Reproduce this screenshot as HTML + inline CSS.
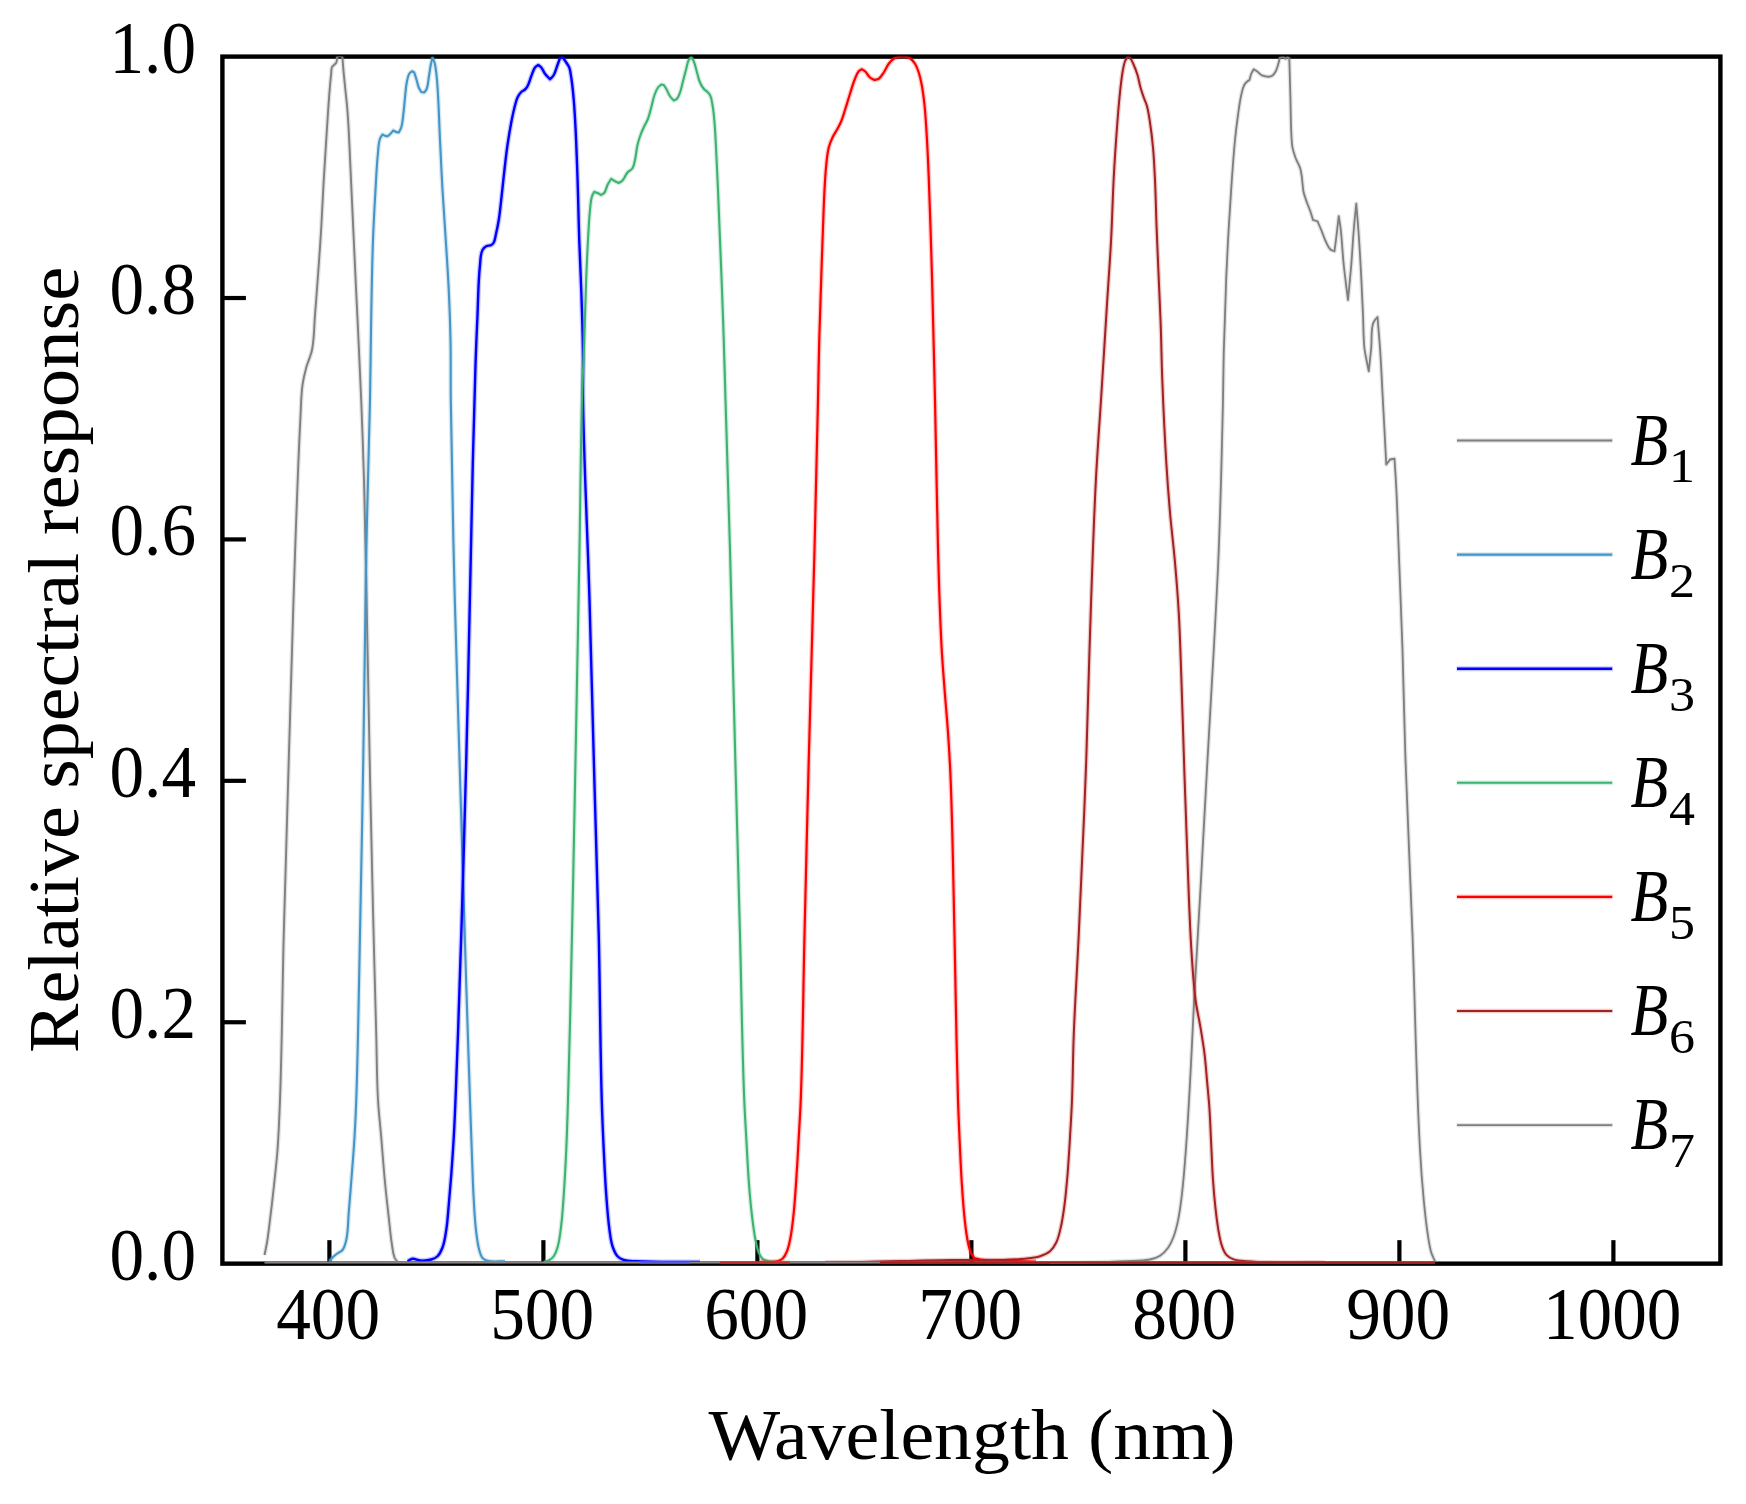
<!DOCTYPE html>
<html lang="en"><head><meta charset="utf-8"><title>Relative spectral response</title>
<style>html,body{margin:0;padding:0;background:#fff;}body{width:1746px;height:1504px;overflow:hidden;}svg{display:block;}text{font-family:"Liberation Serif","DejaVu Serif",serif;fill:#000;}</style></head><body>
<svg width="1746" height="1504" viewBox="0 0 1746 1504">
<rect width="1746" height="1504" fill="#fff"/>
<g>
<defs><clipPath id="ax"><rect x="222.40" y="56.60" width="1498.00" height="1207.05"/></clipPath></defs>
<g stroke="#000" stroke-width="4.20" stroke-linecap="butt">
<line x1="329.40" y1="1263.65" x2="329.40" y2="1240.15"/>
<line x1="543.40" y1="1263.65" x2="543.40" y2="1240.15"/>
<line x1="757.40" y1="1263.65" x2="757.40" y2="1240.15"/>
<line x1="971.40" y1="1263.65" x2="971.40" y2="1240.15"/>
<line x1="1185.40" y1="1263.65" x2="1185.40" y2="1240.15"/>
<line x1="1399.40" y1="1263.65" x2="1399.40" y2="1240.15"/>
<line x1="1613.40" y1="1263.65" x2="1613.40" y2="1240.15"/>
<line x1="222.40" y1="1022.24" x2="245.90" y2="1022.24"/>
<line x1="222.40" y1="780.83" x2="245.90" y2="780.83"/>
<line x1="222.40" y1="539.42" x2="245.90" y2="539.42"/>
<line x1="222.40" y1="298.01" x2="245.90" y2="298.01"/>
</g>
<rect x="222.40" y="56.60" width="1498.00" height="1207.05" fill="none" stroke="#000" stroke-width="4.40" stroke-linejoin="miter"/>
<g clip-path="url(#ax)" fill="none" stroke-linejoin="round" stroke-linecap="butt">
<path d="M264.50 1255.00C265.33 1250.83 266.30 1246.69 267.00 1242.50C268.24 1235.04 269.07 1227.51 270.00 1220.00C271.35 1209.18 272.58 1198.34 273.75 1187.50C275.10 1175.01 276.56 1162.53 277.50 1150.00C278.75 1133.36 279.39 1116.68 280.00 1100.00C282.00 1045.02 282.34 990.00 283.75 935.00C285.25 876.66 287.05 818.33 288.75 760.00C290.30 706.67 291.69 653.33 293.50 600.00C295.58 538.66 297.36 477.30 300.50 416.00C301.03 405.66 301.08 395.26 302.50 385.00C303.32 379.09 304.69 373.26 306.25 367.50C307.85 361.57 310.77 356.02 312.00 350.00C314.34 338.53 314.06 326.67 315.00 315.00C316.34 298.34 317.57 281.67 318.75 265.00C319.64 252.50 320.50 240.01 321.25 227.50C322.19 211.67 322.84 195.83 323.75 180.00C324.52 166.66 325.41 153.33 326.25 140.00C326.86 130.33 327.43 120.66 328.10 111.00C328.63 103.36 329.14 95.73 329.80 88.10C330.21 83.33 330.66 78.56 331.20 73.80C331.46 71.50 331.08 68.98 332.10 66.90C332.58 65.93 333.66 65.39 334.40 64.60C335.09 63.86 335.98 63.23 336.40 62.30C337.13 60.68 336.87 58.77 337.10 57.00C337.97 56.53 338.83 56.07 339.70 55.60C340.60 56.07 341.50 56.53 342.40 57.00C342.77 61.63 343.09 66.27 343.50 70.90C344.01 76.64 344.62 82.37 345.20 88.10C345.78 93.84 346.50 99.56 347.00 105.30C347.58 111.86 348.01 118.43 348.40 125.00C349.10 136.66 349.55 148.33 350.10 160.00C350.77 174.17 351.40 188.33 352.05 202.50C352.93 221.67 353.81 240.83 354.70 260.00C355.36 274.17 356.03 288.33 356.70 302.50C357.29 315.00 357.92 327.50 358.50 340.00C359.43 360.00 360.40 380.00 361.20 400.00C362.27 426.66 363.24 453.33 364.00 480.00C365.13 519.99 365.78 560.00 366.60 600.00C367.80 658.67 368.78 717.34 370.00 776.00C370.93 820.67 371.92 865.34 373.00 910.00C374.01 951.67 375.15 993.33 376.25 1035.00C376.82 1056.67 376.77 1078.36 378.00 1100.00C378.71 1112.53 380.19 1125.00 381.25 1137.50C382.52 1152.50 383.57 1167.52 385.00 1182.50C386.11 1194.18 387.44 1205.84 388.75 1217.50C389.78 1226.67 390.55 1235.88 392.00 1245.00C392.67 1249.20 392.87 1253.57 394.50 1257.50C395.19 1259.17 396.50 1260.50 397.50 1262.00" stroke="#808080" stroke-width="4.50" stroke-opacity="0.22"/>
<path d="M264.50 1255.00C265.33 1250.83 266.30 1246.69 267.00 1242.50C268.24 1235.04 269.07 1227.51 270.00 1220.00C271.35 1209.18 272.58 1198.34 273.75 1187.50C275.10 1175.01 276.56 1162.53 277.50 1150.00C278.75 1133.36 279.39 1116.68 280.00 1100.00C282.00 1045.02 282.34 990.00 283.75 935.00C285.25 876.66 287.05 818.33 288.75 760.00C290.30 706.67 291.69 653.33 293.50 600.00C295.58 538.66 297.36 477.30 300.50 416.00C301.03 405.66 301.08 395.26 302.50 385.00C303.32 379.09 304.69 373.26 306.25 367.50C307.85 361.57 310.77 356.02 312.00 350.00C314.34 338.53 314.06 326.67 315.00 315.00C316.34 298.34 317.57 281.67 318.75 265.00C319.64 252.50 320.50 240.01 321.25 227.50C322.19 211.67 322.84 195.83 323.75 180.00C324.52 166.66 325.41 153.33 326.25 140.00C326.86 130.33 327.43 120.66 328.10 111.00C328.63 103.36 329.14 95.73 329.80 88.10C330.21 83.33 330.66 78.56 331.20 73.80C331.46 71.50 331.08 68.98 332.10 66.90C332.58 65.93 333.66 65.39 334.40 64.60C335.09 63.86 335.98 63.23 336.40 62.30C337.13 60.68 336.87 58.77 337.10 57.00C337.97 56.53 338.83 56.07 339.70 55.60C340.60 56.07 341.50 56.53 342.40 57.00C342.77 61.63 343.09 66.27 343.50 70.90C344.01 76.64 344.62 82.37 345.20 88.10C345.78 93.84 346.50 99.56 347.00 105.30C347.58 111.86 348.01 118.43 348.40 125.00C349.10 136.66 349.55 148.33 350.10 160.00C350.77 174.17 351.40 188.33 352.05 202.50C352.93 221.67 353.81 240.83 354.70 260.00C355.36 274.17 356.03 288.33 356.70 302.50C357.29 315.00 357.92 327.50 358.50 340.00C359.43 360.00 360.40 380.00 361.20 400.00C362.27 426.66 363.24 453.33 364.00 480.00C365.13 519.99 365.78 560.00 366.60 600.00C367.80 658.67 368.78 717.34 370.00 776.00C370.93 820.67 371.92 865.34 373.00 910.00C374.01 951.67 375.15 993.33 376.25 1035.00C376.82 1056.67 376.77 1078.36 378.00 1100.00C378.71 1112.53 380.19 1125.00 381.25 1137.50C382.52 1152.50 383.57 1167.52 385.00 1182.50C386.11 1194.18 387.44 1205.84 388.75 1217.50C389.78 1226.67 390.55 1235.88 392.00 1245.00C392.67 1249.20 392.87 1253.57 394.50 1257.50C395.19 1259.17 396.50 1260.50 397.50 1262.00" stroke="#808080" stroke-width="1.90"/>
<path d="M329.25 1261.25C330.33 1260.00 331.32 1258.66 332.50 1257.50C333.89 1256.13 335.44 1254.93 337.00 1253.75C338.77 1252.41 341.13 1251.75 342.50 1250.00C344.70 1247.20 345.46 1243.47 346.25 1240.00C348.30 1231.03 347.97 1221.67 348.75 1212.50C349.82 1200.01 350.79 1187.50 351.75 1175.00C352.71 1162.50 353.75 1150.01 354.50 1137.50C355.25 1125.01 355.81 1112.51 356.25 1100.00C357.88 1053.35 358.52 1006.67 359.50 960.00C360.90 893.34 362.15 826.67 363.25 760.00C364.41 690.00 364.88 619.99 366.25 550.00C367.23 499.99 369.01 450.01 370.00 400.00C370.56 371.67 370.71 343.33 371.25 315.00C371.73 290.00 372.08 264.99 373.00 240.00C373.61 223.32 374.53 206.66 375.50 190.00C376.23 177.49 376.68 164.96 378.00 152.50C378.49 147.89 378.46 143.12 380.00 138.75C380.55 137.20 381.67 135.92 382.50 134.50C383.33 134.92 384.12 135.45 385.00 135.75C385.80 136.03 386.67 136.08 387.50 136.25C388.50 135.42 389.58 134.67 390.50 133.75C391.51 132.75 392.33 131.58 393.25 130.50C394.25 131.00 395.19 131.64 396.25 132.00C397.05 132.28 397.92 132.33 398.75 132.50C399.58 130.83 400.68 129.27 401.25 127.50C402.54 123.48 402.71 119.18 403.25 115.00C404.01 109.19 404.37 103.33 405.00 97.50C405.54 92.50 405.76 87.44 406.75 82.50C407.34 79.53 407.65 76.33 409.25 73.75C409.90 72.70 411.08 72.08 412.00 71.25C412.75 71.67 413.50 72.08 414.25 72.50C414.92 74.58 415.62 76.66 416.25 78.75C417.13 81.65 417.59 84.70 418.75 87.50C419.41 89.09 420.42 90.50 421.25 92.00C422.25 92.17 423.25 92.33 424.25 92.50C425.08 91.25 426.19 90.14 426.75 88.75C428.17 85.22 428.12 81.26 428.75 77.50C429.45 73.34 429.94 69.14 430.75 65.00C431.24 62.48 431.92 60.00 432.50 57.50C433.17 59.17 434.02 60.77 434.50 62.50C435.62 66.57 436.01 70.81 436.50 75.00C437.28 81.64 437.60 88.33 438.00 95.00C438.89 109.99 439.29 125.00 440.00 140.00C440.79 156.67 441.54 173.34 442.50 190.00C443.60 209.18 445.06 228.33 446.25 247.50C447.13 261.66 448.09 275.82 448.75 290.00C449.53 306.66 450.17 323.33 450.50 340.00C450.90 360.00 450.55 380.00 450.80 400.00C451.63 466.67 453.15 533.34 454.80 600.00C456.25 658.67 458.26 717.33 460.00 776.00C462.07 845.67 464.07 915.34 466.25 985.00C467.45 1023.33 468.70 1061.67 470.00 1100.00C470.56 1116.67 471.13 1133.33 471.75 1150.00C472.38 1166.67 472.78 1183.35 473.75 1200.00C474.38 1210.85 474.91 1221.72 476.25 1232.50C476.98 1238.37 477.63 1244.31 479.25 1250.00C480.04 1252.77 480.59 1255.85 482.50 1258.00C483.76 1259.42 485.66 1260.25 487.50 1260.75C493.13 1262.28 499.17 1261.08 505.00 1261.25" stroke="#4595c6" stroke-width="4.70" stroke-opacity="0.22"/>
<path d="M329.25 1261.25C330.33 1260.00 331.32 1258.66 332.50 1257.50C333.89 1256.13 335.44 1254.93 337.00 1253.75C338.77 1252.41 341.13 1251.75 342.50 1250.00C344.70 1247.20 345.46 1243.47 346.25 1240.00C348.30 1231.03 347.97 1221.67 348.75 1212.50C349.82 1200.01 350.79 1187.50 351.75 1175.00C352.71 1162.50 353.75 1150.01 354.50 1137.50C355.25 1125.01 355.81 1112.51 356.25 1100.00C357.88 1053.35 358.52 1006.67 359.50 960.00C360.90 893.34 362.15 826.67 363.25 760.00C364.41 690.00 364.88 619.99 366.25 550.00C367.23 499.99 369.01 450.01 370.00 400.00C370.56 371.67 370.71 343.33 371.25 315.00C371.73 290.00 372.08 264.99 373.00 240.00C373.61 223.32 374.53 206.66 375.50 190.00C376.23 177.49 376.68 164.96 378.00 152.50C378.49 147.89 378.46 143.12 380.00 138.75C380.55 137.20 381.67 135.92 382.50 134.50C383.33 134.92 384.12 135.45 385.00 135.75C385.80 136.03 386.67 136.08 387.50 136.25C388.50 135.42 389.58 134.67 390.50 133.75C391.51 132.75 392.33 131.58 393.25 130.50C394.25 131.00 395.19 131.64 396.25 132.00C397.05 132.28 397.92 132.33 398.75 132.50C399.58 130.83 400.68 129.27 401.25 127.50C402.54 123.48 402.71 119.18 403.25 115.00C404.01 109.19 404.37 103.33 405.00 97.50C405.54 92.50 405.76 87.44 406.75 82.50C407.34 79.53 407.65 76.33 409.25 73.75C409.90 72.70 411.08 72.08 412.00 71.25C412.75 71.67 413.50 72.08 414.25 72.50C414.92 74.58 415.62 76.66 416.25 78.75C417.13 81.65 417.59 84.70 418.75 87.50C419.41 89.09 420.42 90.50 421.25 92.00C422.25 92.17 423.25 92.33 424.25 92.50C425.08 91.25 426.19 90.14 426.75 88.75C428.17 85.22 428.12 81.26 428.75 77.50C429.45 73.34 429.94 69.14 430.75 65.00C431.24 62.48 431.92 60.00 432.50 57.50C433.17 59.17 434.02 60.77 434.50 62.50C435.62 66.57 436.01 70.81 436.50 75.00C437.28 81.64 437.60 88.33 438.00 95.00C438.89 109.99 439.29 125.00 440.00 140.00C440.79 156.67 441.54 173.34 442.50 190.00C443.60 209.18 445.06 228.33 446.25 247.50C447.13 261.66 448.09 275.82 448.75 290.00C449.53 306.66 450.17 323.33 450.50 340.00C450.90 360.00 450.55 380.00 450.80 400.00C451.63 466.67 453.15 533.34 454.80 600.00C456.25 658.67 458.26 717.33 460.00 776.00C462.07 845.67 464.07 915.34 466.25 985.00C467.45 1023.33 468.70 1061.67 470.00 1100.00C470.56 1116.67 471.13 1133.33 471.75 1150.00C472.38 1166.67 472.78 1183.35 473.75 1200.00C474.38 1210.85 474.91 1221.72 476.25 1232.50C476.98 1238.37 477.63 1244.31 479.25 1250.00C480.04 1252.77 480.59 1255.85 482.50 1258.00C483.76 1259.42 485.66 1260.25 487.50 1260.75C493.13 1262.28 499.17 1261.08 505.00 1261.25" stroke="#4595c6" stroke-width="2.10"/>
<path d="M407.50 1261.25C409.17 1260.42 410.65 1258.97 412.50 1258.75C415.05 1258.45 417.44 1260.32 420.00 1260.50C423.76 1260.76 427.64 1260.56 431.25 1259.50C433.50 1258.84 435.81 1257.88 437.50 1256.25C439.92 1253.92 441.30 1250.64 442.50 1247.50C444.63 1241.93 445.33 1235.89 446.25 1230.00C447.55 1221.73 447.99 1213.34 448.75 1205.00C449.67 1195.01 450.50 1185.01 451.25 1175.00C452.19 1162.51 453.04 1150.01 453.75 1137.50C454.46 1125.01 454.99 1112.50 455.50 1100.00C457.74 1045.01 459.51 990.01 461.25 935.00C463.10 876.67 464.73 818.34 466.25 760.00C469.67 628.34 471.33 496.64 475.50 365.00C476.03 348.33 476.75 331.66 477.50 315.00C478.25 298.33 478.21 281.59 480.00 265.00C480.54 259.96 480.18 254.51 482.50 250.00C483.31 248.43 484.71 247.12 486.25 246.25C487.74 245.40 489.76 245.85 491.25 245.00C492.28 244.42 493.16 243.52 493.75 242.50C495.04 240.26 495.16 237.52 495.75 235.00C496.91 230.03 497.95 225.04 498.75 220.00C500.07 211.71 500.80 203.34 501.75 195.00C502.89 185.01 503.83 174.99 505.00 165.00C505.78 158.33 506.53 151.65 507.50 145.00C508.60 137.48 509.82 129.97 511.25 122.50C512.21 117.48 513.22 112.45 514.50 107.50C515.37 104.13 516.00 100.64 517.50 97.50C518.46 95.50 519.67 93.56 521.25 92.00C522.32 90.94 523.90 90.53 525.00 89.50C526.00 88.57 526.84 87.44 527.50 86.25C529.23 83.14 529.92 79.55 531.25 76.25C532.43 73.31 533.05 70.01 535.00 67.50C535.84 66.42 537.17 65.83 538.25 65.00C539.25 65.83 540.40 66.51 541.25 67.50C542.83 69.35 543.55 71.80 545.00 73.75C546.48 75.74 548.33 77.42 550.00 79.25C551.25 77.83 552.78 76.62 553.75 75.00C555.58 71.95 556.28 68.34 557.50 65.00C558.35 62.67 559.17 60.33 560.00 58.00C560.83 57.67 561.67 57.33 562.50 57.00C563.75 58.83 565.05 60.63 566.25 62.50C567.30 64.14 568.55 65.69 569.25 67.50C570.48 70.67 570.73 74.14 571.25 77.50C572.41 84.96 573.09 92.48 573.75 100.00C574.55 109.15 575.02 118.33 575.50 127.50C576.36 144.16 576.93 160.83 577.50 177.50C578.21 198.33 578.54 219.17 579.25 240.00C579.82 256.67 580.68 273.33 581.25 290.00C581.96 310.83 582.71 331.66 583.00 352.50C583.22 368.33 582.74 384.17 583.00 400.00C584.08 466.69 587.52 533.33 589.50 600.00C591.24 658.66 592.63 717.33 594.25 776.00C595.72 829.00 597.52 881.99 598.75 935.00C600.03 989.99 600.15 1045.01 601.75 1100.00C602.23 1116.67 602.95 1133.34 603.75 1150.00C604.47 1165.01 605.14 1180.02 606.25 1195.00C607.12 1206.68 607.89 1218.39 609.50 1230.00C610.26 1235.46 610.75 1241.03 612.50 1246.25C613.68 1249.78 614.97 1253.52 617.50 1256.25C619.15 1258.03 621.44 1259.23 623.75 1260.00C627.64 1261.30 631.90 1261.02 636.00 1261.25C657.30 1262.46 678.67 1261.75 700.00 1262.00" stroke="#0000ff" stroke-width="5.00" stroke-opacity="0.22"/>
<path d="M407.50 1261.25C409.17 1260.42 410.65 1258.97 412.50 1258.75C415.05 1258.45 417.44 1260.32 420.00 1260.50C423.76 1260.76 427.64 1260.56 431.25 1259.50C433.50 1258.84 435.81 1257.88 437.50 1256.25C439.92 1253.92 441.30 1250.64 442.50 1247.50C444.63 1241.93 445.33 1235.89 446.25 1230.00C447.55 1221.73 447.99 1213.34 448.75 1205.00C449.67 1195.01 450.50 1185.01 451.25 1175.00C452.19 1162.51 453.04 1150.01 453.75 1137.50C454.46 1125.01 454.99 1112.50 455.50 1100.00C457.74 1045.01 459.51 990.01 461.25 935.00C463.10 876.67 464.73 818.34 466.25 760.00C469.67 628.34 471.33 496.64 475.50 365.00C476.03 348.33 476.75 331.66 477.50 315.00C478.25 298.33 478.21 281.59 480.00 265.00C480.54 259.96 480.18 254.51 482.50 250.00C483.31 248.43 484.71 247.12 486.25 246.25C487.74 245.40 489.76 245.85 491.25 245.00C492.28 244.42 493.16 243.52 493.75 242.50C495.04 240.26 495.16 237.52 495.75 235.00C496.91 230.03 497.95 225.04 498.75 220.00C500.07 211.71 500.80 203.34 501.75 195.00C502.89 185.01 503.83 174.99 505.00 165.00C505.78 158.33 506.53 151.65 507.50 145.00C508.60 137.48 509.82 129.97 511.25 122.50C512.21 117.48 513.22 112.45 514.50 107.50C515.37 104.13 516.00 100.64 517.50 97.50C518.46 95.50 519.67 93.56 521.25 92.00C522.32 90.94 523.90 90.53 525.00 89.50C526.00 88.57 526.84 87.44 527.50 86.25C529.23 83.14 529.92 79.55 531.25 76.25C532.43 73.31 533.05 70.01 535.00 67.50C535.84 66.42 537.17 65.83 538.25 65.00C539.25 65.83 540.40 66.51 541.25 67.50C542.83 69.35 543.55 71.80 545.00 73.75C546.48 75.74 548.33 77.42 550.00 79.25C551.25 77.83 552.78 76.62 553.75 75.00C555.58 71.95 556.28 68.34 557.50 65.00C558.35 62.67 559.17 60.33 560.00 58.00C560.83 57.67 561.67 57.33 562.50 57.00C563.75 58.83 565.05 60.63 566.25 62.50C567.30 64.14 568.55 65.69 569.25 67.50C570.48 70.67 570.73 74.14 571.25 77.50C572.41 84.96 573.09 92.48 573.75 100.00C574.55 109.15 575.02 118.33 575.50 127.50C576.36 144.16 576.93 160.83 577.50 177.50C578.21 198.33 578.54 219.17 579.25 240.00C579.82 256.67 580.68 273.33 581.25 290.00C581.96 310.83 582.71 331.66 583.00 352.50C583.22 368.33 582.74 384.17 583.00 400.00C584.08 466.69 587.52 533.33 589.50 600.00C591.24 658.66 592.63 717.33 594.25 776.00C595.72 829.00 597.52 881.99 598.75 935.00C600.03 989.99 600.15 1045.01 601.75 1100.00C602.23 1116.67 602.95 1133.34 603.75 1150.00C604.47 1165.01 605.14 1180.02 606.25 1195.00C607.12 1206.68 607.89 1218.39 609.50 1230.00C610.26 1235.46 610.75 1241.03 612.50 1246.25C613.68 1249.78 614.97 1253.52 617.50 1256.25C619.15 1258.03 621.44 1259.23 623.75 1260.00C627.64 1261.30 631.90 1261.02 636.00 1261.25C657.30 1262.46 678.67 1261.75 700.00 1262.00" stroke="#0000ff" stroke-width="2.40"/>
<path d="M543.75 1262.00C545.42 1261.50 547.22 1261.33 548.75 1260.50C550.67 1259.46 552.45 1258.01 553.75 1256.25C555.63 1253.70 556.61 1250.55 557.50 1247.50C559.64 1240.20 560.31 1232.54 561.25 1225.00C562.49 1215.04 563.05 1205.01 563.75 1195.00C564.79 1180.01 565.57 1165.01 566.25 1150.00C567.00 1133.34 567.51 1116.67 568.00 1100.00C569.63 1045.01 570.78 990.00 572.00 935.00C573.29 876.67 574.36 818.33 575.50 760.00C576.87 690.00 578.25 620.00 579.50 550.00C580.39 500.00 580.65 449.99 582.00 400.00C582.54 379.99 583.55 360.00 584.25 340.00C584.97 319.17 585.43 298.33 586.25 277.50C586.74 265.00 587.29 252.49 588.00 240.00C588.57 229.99 588.94 219.97 590.00 210.00C590.49 205.39 590.61 200.67 592.00 196.25C592.50 194.65 593.50 193.25 594.25 191.75C595.33 192.17 596.44 192.52 597.50 193.00C598.79 193.59 600.00 194.33 601.25 195.00C602.33 194.17 603.68 193.59 604.50 192.50C606.12 190.35 606.30 187.41 607.50 185.00C608.58 182.82 610.00 180.83 611.25 178.75C612.50 179.58 613.69 180.51 615.00 181.25C616.20 181.93 617.50 182.42 618.75 183.00C620.00 182.17 621.45 181.58 622.50 180.50C624.69 178.24 625.44 174.88 627.50 172.50C628.93 170.84 631.30 170.08 632.50 168.25C634.08 165.85 634.35 162.80 635.00 160.00C636.15 155.06 636.35 149.94 637.50 145.00C638.29 141.61 639.31 138.27 640.50 135.00C641.58 132.02 642.91 129.13 644.25 126.25C645.43 123.71 646.98 121.35 648.00 118.75C649.42 115.11 650.22 111.26 651.25 107.50C652.39 103.35 653.04 99.05 654.50 95.00C655.43 92.40 656.37 89.73 658.00 87.50C658.87 86.31 660.17 85.50 661.25 84.50C662.08 84.67 662.92 84.83 663.75 85.00C664.58 86.25 665.50 87.45 666.25 88.75C667.65 91.17 668.44 93.93 670.00 96.25C671.06 97.82 672.50 99.08 673.75 100.50C674.83 99.92 676.15 99.64 677.00 98.75C678.60 97.08 679.20 94.67 680.00 92.50C681.35 88.86 682.01 85.00 683.00 81.25C684.10 77.09 685.12 72.90 686.25 68.75C687.05 65.82 687.33 62.68 688.75 60.00C689.36 58.85 690.42 58.00 691.25 57.00C692.08 58.42 693.10 59.74 693.75 61.25C695.29 64.84 695.90 68.76 697.00 72.50C697.98 75.84 698.59 79.32 700.00 82.50C700.98 84.72 702.19 86.89 703.75 88.75C704.81 90.02 706.34 90.82 707.50 92.00C708.41 92.93 709.41 93.84 710.00 95.00C711.56 98.06 711.89 101.62 712.50 105.00C713.55 110.78 714.00 116.65 714.50 122.50C715.36 132.48 715.72 142.50 716.25 152.50C716.91 165.00 717.46 177.50 718.00 190.00C718.72 206.66 719.33 223.33 720.00 240.00C720.67 256.67 721.37 273.33 722.00 290.00C722.62 306.67 723.22 323.33 723.75 340.00C724.39 360.00 724.91 380.00 725.50 400.00C726.98 450.00 728.61 500.00 730.00 550.00C732.09 625.33 733.78 700.67 735.75 776.00C737.13 829.00 738.61 882.00 740.00 935.00C741.44 990.00 742.08 1045.02 744.25 1100.00C744.74 1112.51 745.54 1125.00 746.25 1137.50C747.19 1154.17 747.92 1170.86 749.25 1187.50C750.12 1198.35 751.15 1209.20 752.50 1220.00C753.34 1226.69 754.15 1233.40 755.50 1240.00C756.36 1244.22 757.08 1248.53 758.75 1252.50C759.69 1254.74 760.65 1257.17 762.50 1258.75C764.21 1260.20 766.55 1260.79 768.75 1261.25C775.69 1262.71 782.92 1261.75 790.00 1262.00" stroke="#3cb371" stroke-width="4.70" stroke-opacity="0.22"/>
<path d="M543.75 1262.00C545.42 1261.50 547.22 1261.33 548.75 1260.50C550.67 1259.46 552.45 1258.01 553.75 1256.25C555.63 1253.70 556.61 1250.55 557.50 1247.50C559.64 1240.20 560.31 1232.54 561.25 1225.00C562.49 1215.04 563.05 1205.01 563.75 1195.00C564.79 1180.01 565.57 1165.01 566.25 1150.00C567.00 1133.34 567.51 1116.67 568.00 1100.00C569.63 1045.01 570.78 990.00 572.00 935.00C573.29 876.67 574.36 818.33 575.50 760.00C576.87 690.00 578.25 620.00 579.50 550.00C580.39 500.00 580.65 449.99 582.00 400.00C582.54 379.99 583.55 360.00 584.25 340.00C584.97 319.17 585.43 298.33 586.25 277.50C586.74 265.00 587.29 252.49 588.00 240.00C588.57 229.99 588.94 219.97 590.00 210.00C590.49 205.39 590.61 200.67 592.00 196.25C592.50 194.65 593.50 193.25 594.25 191.75C595.33 192.17 596.44 192.52 597.50 193.00C598.79 193.59 600.00 194.33 601.25 195.00C602.33 194.17 603.68 193.59 604.50 192.50C606.12 190.35 606.30 187.41 607.50 185.00C608.58 182.82 610.00 180.83 611.25 178.75C612.50 179.58 613.69 180.51 615.00 181.25C616.20 181.93 617.50 182.42 618.75 183.00C620.00 182.17 621.45 181.58 622.50 180.50C624.69 178.24 625.44 174.88 627.50 172.50C628.93 170.84 631.30 170.08 632.50 168.25C634.08 165.85 634.35 162.80 635.00 160.00C636.15 155.06 636.35 149.94 637.50 145.00C638.29 141.61 639.31 138.27 640.50 135.00C641.58 132.02 642.91 129.13 644.25 126.25C645.43 123.71 646.98 121.35 648.00 118.75C649.42 115.11 650.22 111.26 651.25 107.50C652.39 103.35 653.04 99.05 654.50 95.00C655.43 92.40 656.37 89.73 658.00 87.50C658.87 86.31 660.17 85.50 661.25 84.50C662.08 84.67 662.92 84.83 663.75 85.00C664.58 86.25 665.50 87.45 666.25 88.75C667.65 91.17 668.44 93.93 670.00 96.25C671.06 97.82 672.50 99.08 673.75 100.50C674.83 99.92 676.15 99.64 677.00 98.75C678.60 97.08 679.20 94.67 680.00 92.50C681.35 88.86 682.01 85.00 683.00 81.25C684.10 77.09 685.12 72.90 686.25 68.75C687.05 65.82 687.33 62.68 688.75 60.00C689.36 58.85 690.42 58.00 691.25 57.00C692.08 58.42 693.10 59.74 693.75 61.25C695.29 64.84 695.90 68.76 697.00 72.50C697.98 75.84 698.59 79.32 700.00 82.50C700.98 84.72 702.19 86.89 703.75 88.75C704.81 90.02 706.34 90.82 707.50 92.00C708.41 92.93 709.41 93.84 710.00 95.00C711.56 98.06 711.89 101.62 712.50 105.00C713.55 110.78 714.00 116.65 714.50 122.50C715.36 132.48 715.72 142.50 716.25 152.50C716.91 165.00 717.46 177.50 718.00 190.00C718.72 206.66 719.33 223.33 720.00 240.00C720.67 256.67 721.37 273.33 722.00 290.00C722.62 306.67 723.22 323.33 723.75 340.00C724.39 360.00 724.91 380.00 725.50 400.00C726.98 450.00 728.61 500.00 730.00 550.00C732.09 625.33 733.78 700.67 735.75 776.00C737.13 829.00 738.61 882.00 740.00 935.00C741.44 990.00 742.08 1045.02 744.25 1100.00C744.74 1112.51 745.54 1125.00 746.25 1137.50C747.19 1154.17 747.92 1170.86 749.25 1187.50C750.12 1198.35 751.15 1209.20 752.50 1220.00C753.34 1226.69 754.15 1233.40 755.50 1240.00C756.36 1244.22 757.08 1248.53 758.75 1252.50C759.69 1254.74 760.65 1257.17 762.50 1258.75C764.21 1260.20 766.55 1260.79 768.75 1261.25C775.69 1262.71 782.92 1261.75 790.00 1262.00" stroke="#3cb371" stroke-width="2.10"/>
<path d="M760.00 1262.00C765.83 1261.75 771.85 1262.71 777.50 1261.25C779.30 1260.78 781.13 1260.02 782.50 1258.75C784.64 1256.77 785.88 1253.94 787.00 1251.25C788.82 1246.88 789.61 1242.15 790.50 1237.50C792.08 1229.25 792.89 1220.86 793.75 1212.50C794.87 1201.69 795.51 1190.84 796.25 1180.00C797.21 1165.84 797.96 1151.67 798.75 1137.50C799.45 1125.00 800.27 1112.51 800.75 1100.00C802.84 1045.03 803.21 990.00 804.50 935.00C805.87 876.67 807.24 818.33 808.75 760.00C810.56 690.00 812.72 620.00 814.50 550.00C815.77 500.00 816.90 450.00 818.00 400.00C818.44 380.00 818.72 360.00 819.25 340.00C819.80 319.16 820.55 298.33 821.25 277.50C821.81 260.83 822.38 244.17 823.00 227.50C823.47 215.00 823.81 202.49 824.50 190.00C824.96 181.66 825.37 173.31 826.25 165.00C826.87 159.14 827.29 153.21 828.75 147.50C829.63 144.05 830.99 140.72 832.50 137.50C833.93 134.46 835.91 131.71 837.50 128.75C838.82 126.29 840.18 123.83 841.25 121.25C842.76 117.60 843.79 113.76 845.00 110.00C846.73 104.60 848.27 99.15 850.00 93.75C851.61 88.73 852.98 83.62 855.00 78.75C856.07 76.17 856.90 73.35 858.75 71.25C859.55 70.35 860.75 69.92 861.75 69.25C862.83 69.92 864.05 70.41 865.00 71.25C867.00 73.02 867.96 75.78 870.00 77.50C871.31 78.61 873.00 79.17 874.50 80.00C875.92 79.58 877.52 79.57 878.75 78.75C880.97 77.26 882.25 74.71 883.75 72.50C885.64 69.72 886.71 66.42 888.75 63.75C890.18 61.88 891.75 60.00 893.75 58.75C895.25 57.81 897.01 57.30 898.75 57.00C901.21 56.58 903.78 56.60 906.25 57.00C907.55 57.21 908.90 57.53 910.00 58.25C912.08 59.60 913.66 61.67 915.00 63.75C916.72 66.42 917.75 69.49 918.75 72.50C920.10 76.57 920.96 80.79 921.75 85.00C923.00 91.61 923.80 98.31 924.50 105.00C925.71 116.63 926.31 128.32 927.00 140.00C927.74 152.49 928.24 165.00 928.75 177.50C929.43 194.16 929.96 210.83 930.50 227.50C931.04 244.17 931.54 260.83 932.00 277.50C932.46 294.17 932.84 310.83 933.25 327.50C933.84 351.67 934.45 375.83 935.00 400.00C936.33 458.33 936.96 516.68 938.75 575.00C939.52 600.01 940.35 625.02 941.75 650.00C942.59 665.02 943.86 680.00 945.00 695.00C945.95 707.50 947.14 719.99 948.00 732.50C949.00 746.99 949.90 761.49 950.50 776.00C952.69 828.97 953.27 882.00 954.50 935.00C955.78 990.00 956.32 1045.01 958.00 1100.00C958.38 1112.50 958.94 1125.00 959.50 1137.50C960.18 1152.50 960.79 1167.51 961.75 1182.50C962.50 1194.18 963.27 1205.86 964.50 1217.50C965.30 1225.02 966.05 1232.57 967.50 1240.00C968.33 1244.22 969.03 1248.55 970.75 1252.50C971.62 1254.49 973.08 1256.17 974.25 1258.00C976.17 1258.50 978.04 1259.19 980.00 1259.50C986.60 1260.56 993.33 1260.47 1000.00 1260.75C1011.99 1261.25 1024.00 1261.25 1036.00 1261.50" stroke="#ff0000" stroke-width="4.80" stroke-opacity="0.22"/>
<path d="M760.00 1262.00C765.83 1261.75 771.85 1262.71 777.50 1261.25C779.30 1260.78 781.13 1260.02 782.50 1258.75C784.64 1256.77 785.88 1253.94 787.00 1251.25C788.82 1246.88 789.61 1242.15 790.50 1237.50C792.08 1229.25 792.89 1220.86 793.75 1212.50C794.87 1201.69 795.51 1190.84 796.25 1180.00C797.21 1165.84 797.96 1151.67 798.75 1137.50C799.45 1125.00 800.27 1112.51 800.75 1100.00C802.84 1045.03 803.21 990.00 804.50 935.00C805.87 876.67 807.24 818.33 808.75 760.00C810.56 690.00 812.72 620.00 814.50 550.00C815.77 500.00 816.90 450.00 818.00 400.00C818.44 380.00 818.72 360.00 819.25 340.00C819.80 319.16 820.55 298.33 821.25 277.50C821.81 260.83 822.38 244.17 823.00 227.50C823.47 215.00 823.81 202.49 824.50 190.00C824.96 181.66 825.37 173.31 826.25 165.00C826.87 159.14 827.29 153.21 828.75 147.50C829.63 144.05 830.99 140.72 832.50 137.50C833.93 134.46 835.91 131.71 837.50 128.75C838.82 126.29 840.18 123.83 841.25 121.25C842.76 117.60 843.79 113.76 845.00 110.00C846.73 104.60 848.27 99.15 850.00 93.75C851.61 88.73 852.98 83.62 855.00 78.75C856.07 76.17 856.90 73.35 858.75 71.25C859.55 70.35 860.75 69.92 861.75 69.25C862.83 69.92 864.05 70.41 865.00 71.25C867.00 73.02 867.96 75.78 870.00 77.50C871.31 78.61 873.00 79.17 874.50 80.00C875.92 79.58 877.52 79.57 878.75 78.75C880.97 77.26 882.25 74.71 883.75 72.50C885.64 69.72 886.71 66.42 888.75 63.75C890.18 61.88 891.75 60.00 893.75 58.75C895.25 57.81 897.01 57.30 898.75 57.00C901.21 56.58 903.78 56.60 906.25 57.00C907.55 57.21 908.90 57.53 910.00 58.25C912.08 59.60 913.66 61.67 915.00 63.75C916.72 66.42 917.75 69.49 918.75 72.50C920.10 76.57 920.96 80.79 921.75 85.00C923.00 91.61 923.80 98.31 924.50 105.00C925.71 116.63 926.31 128.32 927.00 140.00C927.74 152.49 928.24 165.00 928.75 177.50C929.43 194.16 929.96 210.83 930.50 227.50C931.04 244.17 931.54 260.83 932.00 277.50C932.46 294.17 932.84 310.83 933.25 327.50C933.84 351.67 934.45 375.83 935.00 400.00C936.33 458.33 936.96 516.68 938.75 575.00C939.52 600.01 940.35 625.02 941.75 650.00C942.59 665.02 943.86 680.00 945.00 695.00C945.95 707.50 947.14 719.99 948.00 732.50C949.00 746.99 949.90 761.49 950.50 776.00C952.69 828.97 953.27 882.00 954.50 935.00C955.78 990.00 956.32 1045.01 958.00 1100.00C958.38 1112.50 958.94 1125.00 959.50 1137.50C960.18 1152.50 960.79 1167.51 961.75 1182.50C962.50 1194.18 963.27 1205.86 964.50 1217.50C965.30 1225.02 966.05 1232.57 967.50 1240.00C968.33 1244.22 969.03 1248.55 970.75 1252.50C971.62 1254.49 973.08 1256.17 974.25 1258.00C976.17 1258.50 978.04 1259.19 980.00 1259.50C986.60 1260.56 993.33 1260.47 1000.00 1260.75C1011.99 1261.25 1024.00 1261.25 1036.00 1261.50" stroke="#ff0000" stroke-width="2.20"/>
<path d="M1050.00 1263.00C1062.50 1262.83 1075.00 1262.79 1087.50 1262.50C1100.00 1262.21 1112.51 1261.90 1125.00 1261.25C1133.34 1260.82 1141.83 1261.25 1150.00 1259.50C1153.47 1258.76 1157.01 1257.75 1160.00 1255.83C1163.21 1253.78 1165.85 1250.85 1168.08 1247.76C1170.43 1244.50 1172.02 1240.73 1173.46 1236.98C1175.47 1231.77 1176.78 1226.29 1177.95 1220.83C1179.61 1213.13 1180.55 1205.30 1181.54 1197.49C1182.68 1188.54 1183.45 1179.54 1184.24 1170.56C1185.28 1158.60 1186.12 1146.63 1186.93 1134.65C1187.94 1119.70 1188.78 1104.73 1189.62 1089.77C1190.46 1074.81 1191.21 1059.85 1191.96 1044.88C1192.70 1029.92 1193.32 1014.96 1194.11 1000.00C1195.91 965.82 1198.09 931.67 1200.00 897.50C1202.57 851.67 1204.95 805.83 1207.50 760.00C1209.54 723.33 1211.79 686.67 1213.75 650.00C1215.53 616.67 1217.44 583.35 1218.75 550.00C1220.71 500.02 1221.90 450.01 1223.00 400.00C1223.35 384.17 1223.36 368.33 1223.75 352.50C1224.36 327.49 1225.21 302.49 1226.25 277.50C1226.94 260.83 1227.79 244.16 1228.75 227.50C1229.71 210.83 1230.79 194.16 1232.00 177.50C1232.91 164.99 1233.75 152.48 1235.00 140.00C1235.83 131.65 1236.83 123.31 1238.00 115.00C1238.94 108.31 1239.73 101.58 1241.25 95.00C1242.03 91.61 1242.57 88.05 1244.25 85.00C1245.05 83.55 1246.24 82.33 1247.50 81.25C1248.10 80.74 1248.83 80.42 1249.50 80.00C1250.08 77.92 1250.43 75.75 1251.25 73.75C1251.90 72.16 1252.92 70.75 1253.75 69.25C1254.83 69.92 1255.98 70.49 1257.00 71.25C1258.52 72.37 1259.61 74.06 1261.25 75.00C1262.39 75.66 1263.72 75.95 1265.00 76.25C1266.23 76.53 1267.49 76.87 1268.75 76.75C1270.06 76.63 1271.43 76.27 1272.50 75.50C1273.95 74.46 1274.90 72.82 1275.75 71.25C1276.81 69.31 1277.34 67.11 1278.00 65.00C1278.77 62.53 1279.33 60.00 1280.00 57.50C1281.25 57.33 1282.50 57.17 1283.75 57.00C1284.33 57.58 1284.92 58.17 1285.50 58.75C1286.17 58.17 1286.83 57.58 1287.50 57.00C1288.10 57.43 1288.70 57.87 1289.30 58.30C1289.67 71.30 1290.00 84.30 1290.40 97.30C1290.87 112.57 1290.64 127.88 1291.90 143.10C1292.02 144.61 1292.18 146.12 1292.50 147.60C1293.26 151.14 1294.34 154.61 1295.60 158.00C1296.91 161.53 1299.08 164.71 1300.20 168.30C1301.13 171.28 1301.44 174.42 1301.90 177.50C1302.63 182.41 1302.54 187.45 1303.60 192.30C1304.38 195.86 1305.78 199.26 1307.00 202.70C1308.09 205.76 1309.44 208.73 1310.50 211.80C1311.43 214.50 1312.17 217.27 1313.00 220.00C1314.50 220.42 1316.00 220.83 1317.50 221.25C1318.75 224.17 1320.04 227.07 1321.25 230.00C1322.97 234.15 1324.25 238.48 1326.25 242.50C1327.47 244.94 1328.45 247.70 1330.50 249.50C1331.60 250.46 1333.17 250.67 1334.50 251.25C1335.08 246.67 1335.69 242.09 1336.25 237.50C1337.12 230.42 1337.92 223.33 1338.75 216.25C1339.33 220.00 1340.04 223.73 1340.50 227.50C1342.01 239.96 1342.45 252.52 1343.75 265.00C1344.97 276.69 1346.58 288.33 1348.00 300.00C1349.08 288.33 1350.29 276.68 1351.25 265.00C1352.21 253.34 1352.78 241.66 1353.75 230.00C1354.48 221.24 1355.42 212.50 1356.25 203.75C1357.08 214.17 1358.03 224.58 1358.75 235.00C1359.73 249.16 1360.50 263.33 1361.25 277.50C1361.91 290.00 1362.43 302.50 1363.00 315.00C1363.51 326.25 1363.24 337.56 1364.50 348.75C1365.02 353.38 1366.13 357.92 1367.00 362.50C1367.56 365.42 1368.17 368.33 1368.75 371.25C1369.58 363.33 1370.54 355.43 1371.25 347.50C1371.96 339.59 1370.79 331.38 1373.00 323.75C1373.39 322.39 1374.21 321.18 1375.00 320.00C1375.73 318.92 1376.67 318.00 1377.50 317.00C1378.43 328.83 1379.51 340.66 1380.30 352.50C1381.24 366.66 1381.84 380.83 1382.60 395.00C1383.27 407.50 1383.94 420.00 1384.60 432.50C1385.16 443.17 1385.70 453.83 1386.25 464.50C1387.50 462.83 1388.75 461.17 1390.00 459.50C1391.50 459.25 1393.00 459.00 1394.50 458.75C1395.08 468.33 1395.77 477.91 1396.25 487.50C1397.30 508.32 1397.94 529.17 1398.75 550.00C1400.04 583.33 1401.42 616.66 1402.50 650.00C1403.69 686.66 1404.27 723.34 1405.50 760.00C1407.46 818.35 1410.32 876.66 1412.50 935.00C1415.18 1006.66 1416.07 1078.40 1420.00 1150.00C1420.92 1166.69 1422.17 1183.36 1423.75 1200.00C1424.78 1210.86 1425.87 1221.72 1427.50 1232.50C1428.51 1239.21 1429.28 1246.01 1431.25 1252.50C1432.17 1255.54 1433.75 1258.33 1435.00 1261.25" stroke="#7e7e7e" stroke-width="4.40" stroke-opacity="0.22"/>
<path d="M1050.00 1263.00C1062.50 1262.83 1075.00 1262.79 1087.50 1262.50C1100.00 1262.21 1112.51 1261.90 1125.00 1261.25C1133.34 1260.82 1141.83 1261.25 1150.00 1259.50C1153.47 1258.76 1157.01 1257.75 1160.00 1255.83C1163.21 1253.78 1165.85 1250.85 1168.08 1247.76C1170.43 1244.50 1172.02 1240.73 1173.46 1236.98C1175.47 1231.77 1176.78 1226.29 1177.95 1220.83C1179.61 1213.13 1180.55 1205.30 1181.54 1197.49C1182.68 1188.54 1183.45 1179.54 1184.24 1170.56C1185.28 1158.60 1186.12 1146.63 1186.93 1134.65C1187.94 1119.70 1188.78 1104.73 1189.62 1089.77C1190.46 1074.81 1191.21 1059.85 1191.96 1044.88C1192.70 1029.92 1193.32 1014.96 1194.11 1000.00C1195.91 965.82 1198.09 931.67 1200.00 897.50C1202.57 851.67 1204.95 805.83 1207.50 760.00C1209.54 723.33 1211.79 686.67 1213.75 650.00C1215.53 616.67 1217.44 583.35 1218.75 550.00C1220.71 500.02 1221.90 450.01 1223.00 400.00C1223.35 384.17 1223.36 368.33 1223.75 352.50C1224.36 327.49 1225.21 302.49 1226.25 277.50C1226.94 260.83 1227.79 244.16 1228.75 227.50C1229.71 210.83 1230.79 194.16 1232.00 177.50C1232.91 164.99 1233.75 152.48 1235.00 140.00C1235.83 131.65 1236.83 123.31 1238.00 115.00C1238.94 108.31 1239.73 101.58 1241.25 95.00C1242.03 91.61 1242.57 88.05 1244.25 85.00C1245.05 83.55 1246.24 82.33 1247.50 81.25C1248.10 80.74 1248.83 80.42 1249.50 80.00C1250.08 77.92 1250.43 75.75 1251.25 73.75C1251.90 72.16 1252.92 70.75 1253.75 69.25C1254.83 69.92 1255.98 70.49 1257.00 71.25C1258.52 72.37 1259.61 74.06 1261.25 75.00C1262.39 75.66 1263.72 75.95 1265.00 76.25C1266.23 76.53 1267.49 76.87 1268.75 76.75C1270.06 76.63 1271.43 76.27 1272.50 75.50C1273.95 74.46 1274.90 72.82 1275.75 71.25C1276.81 69.31 1277.34 67.11 1278.00 65.00C1278.77 62.53 1279.33 60.00 1280.00 57.50C1281.25 57.33 1282.50 57.17 1283.75 57.00C1284.33 57.58 1284.92 58.17 1285.50 58.75C1286.17 58.17 1286.83 57.58 1287.50 57.00C1288.10 57.43 1288.70 57.87 1289.30 58.30C1289.67 71.30 1290.00 84.30 1290.40 97.30C1290.87 112.57 1290.64 127.88 1291.90 143.10C1292.02 144.61 1292.18 146.12 1292.50 147.60C1293.26 151.14 1294.34 154.61 1295.60 158.00C1296.91 161.53 1299.08 164.71 1300.20 168.30C1301.13 171.28 1301.44 174.42 1301.90 177.50C1302.63 182.41 1302.54 187.45 1303.60 192.30C1304.38 195.86 1305.78 199.26 1307.00 202.70C1308.09 205.76 1309.44 208.73 1310.50 211.80C1311.43 214.50 1312.17 217.27 1313.00 220.00C1314.50 220.42 1316.00 220.83 1317.50 221.25C1318.75 224.17 1320.04 227.07 1321.25 230.00C1322.97 234.15 1324.25 238.48 1326.25 242.50C1327.47 244.94 1328.45 247.70 1330.50 249.50C1331.60 250.46 1333.17 250.67 1334.50 251.25C1335.08 246.67 1335.69 242.09 1336.25 237.50C1337.12 230.42 1337.92 223.33 1338.75 216.25C1339.33 220.00 1340.04 223.73 1340.50 227.50C1342.01 239.96 1342.45 252.52 1343.75 265.00C1344.97 276.69 1346.58 288.33 1348.00 300.00C1349.08 288.33 1350.29 276.68 1351.25 265.00C1352.21 253.34 1352.78 241.66 1353.75 230.00C1354.48 221.24 1355.42 212.50 1356.25 203.75C1357.08 214.17 1358.03 224.58 1358.75 235.00C1359.73 249.16 1360.50 263.33 1361.25 277.50C1361.91 290.00 1362.43 302.50 1363.00 315.00C1363.51 326.25 1363.24 337.56 1364.50 348.75C1365.02 353.38 1366.13 357.92 1367.00 362.50C1367.56 365.42 1368.17 368.33 1368.75 371.25C1369.58 363.33 1370.54 355.43 1371.25 347.50C1371.96 339.59 1370.79 331.38 1373.00 323.75C1373.39 322.39 1374.21 321.18 1375.00 320.00C1375.73 318.92 1376.67 318.00 1377.50 317.00C1378.43 328.83 1379.51 340.66 1380.30 352.50C1381.24 366.66 1381.84 380.83 1382.60 395.00C1383.27 407.50 1383.94 420.00 1384.60 432.50C1385.16 443.17 1385.70 453.83 1386.25 464.50C1387.50 462.83 1388.75 461.17 1390.00 459.50C1391.50 459.25 1393.00 459.00 1394.50 458.75C1395.08 468.33 1395.77 477.91 1396.25 487.50C1397.30 508.32 1397.94 529.17 1398.75 550.00C1400.04 583.33 1401.42 616.66 1402.50 650.00C1403.69 686.66 1404.27 723.34 1405.50 760.00C1407.46 818.35 1410.32 876.66 1412.50 935.00C1415.18 1006.66 1416.07 1078.40 1420.00 1150.00C1420.92 1166.69 1422.17 1183.36 1423.75 1200.00C1424.78 1210.86 1425.87 1221.72 1427.50 1232.50C1428.51 1239.21 1429.28 1246.01 1431.25 1252.50C1432.17 1255.54 1433.75 1258.33 1435.00 1261.25" stroke="#7e7e7e" stroke-width="1.80"/>
<path d="M825.00 1262.50C837.50 1262.33 850.00 1262.23 862.50 1262.00C891.67 1261.47 920.83 1260.33 950.00 1260.00C966.67 1259.81 983.34 1260.42 1000.00 1260.00C1008.34 1259.79 1016.70 1259.65 1025.00 1258.75C1030.04 1258.21 1035.18 1257.82 1040.00 1256.25C1043.54 1255.10 1047.17 1253.67 1050.00 1251.25C1052.72 1248.92 1054.67 1245.72 1056.25 1242.50C1058.55 1237.81 1059.57 1232.58 1060.75 1227.50C1062.47 1220.09 1063.50 1212.54 1064.50 1205.00C1065.83 1195.04 1066.67 1185.02 1067.50 1175.00C1068.54 1162.52 1069.25 1150.01 1070.00 1137.50C1070.75 1125.00 1071.50 1112.51 1072.00 1100.00C1072.87 1078.34 1072.92 1056.66 1073.75 1035.00C1075.03 1001.65 1077.20 968.34 1078.75 935.00C1081.46 876.68 1084.14 818.35 1086.25 760.00C1087.58 723.34 1088.27 686.66 1089.50 650.00C1091.40 593.33 1093.03 536.63 1095.90 480.00C1097.25 453.31 1099.31 426.67 1101.00 400.00C1102.00 384.17 1103.01 368.33 1104.00 352.50C1105.04 335.83 1106.05 319.17 1107.10 302.50C1108.41 281.67 1109.99 260.85 1111.10 240.00C1112.21 219.18 1112.63 198.32 1113.75 177.50C1114.65 160.82 1115.76 144.16 1117.00 127.50C1117.74 117.49 1118.49 107.48 1119.50 97.50C1120.35 89.15 1121.09 80.77 1122.50 72.50C1123.15 68.71 1123.59 64.82 1125.00 61.25C1125.60 59.72 1126.67 58.42 1127.50 57.00C1128.33 57.33 1129.33 57.40 1130.00 58.00C1131.97 59.76 1132.66 62.59 1133.75 65.00C1135.22 68.24 1136.46 71.60 1137.50 75.00C1138.75 79.10 1139.34 83.38 1140.50 87.50C1141.45 90.87 1142.60 94.19 1143.75 97.50C1144.77 100.44 1146.17 103.25 1147.00 106.25C1148.46 111.56 1149.17 117.05 1150.00 122.50C1151.26 130.80 1152.24 139.14 1153.00 147.50C1153.98 158.31 1154.48 169.16 1155.00 180.00C1155.75 195.82 1156.00 211.67 1156.60 227.50C1157.23 244.17 1158.00 260.83 1158.70 277.50C1159.40 294.17 1160.22 310.83 1160.80 327.50C1161.38 344.16 1161.56 360.84 1162.20 377.50C1163.28 405.85 1164.57 434.19 1166.30 462.50C1167.32 479.18 1168.55 495.85 1170.00 512.50C1171.45 529.19 1173.54 545.81 1175.00 562.50C1176.46 579.15 1177.79 595.81 1178.75 612.50C1179.95 633.32 1180.50 654.16 1181.25 675.00C1182.46 708.66 1183.36 742.34 1184.50 776.00C1185.45 804.00 1186.40 832.00 1187.50 860.00C1188.65 889.17 1189.43 918.36 1191.25 947.50C1192.34 965.02 1193.27 982.59 1195.55 1000.00C1196.73 1009.04 1198.90 1017.93 1200.39 1026.93C1201.89 1035.89 1203.41 1044.85 1204.52 1053.86C1205.63 1062.81 1206.23 1071.81 1207.04 1080.79C1207.85 1089.76 1208.76 1098.73 1209.37 1107.72C1210.19 1119.68 1210.57 1131.66 1211.17 1143.63C1211.77 1155.60 1212.15 1167.58 1212.96 1179.53C1213.58 1188.52 1214.32 1197.51 1215.30 1206.46C1216.14 1214.26 1216.99 1222.08 1218.35 1229.80C1219.31 1235.24 1220.09 1240.76 1221.94 1245.96C1223.06 1249.11 1224.18 1252.46 1226.43 1254.94C1228.33 1257.03 1230.96 1258.46 1233.61 1259.43C1237.58 1260.88 1241.96 1260.89 1246.18 1261.22C1272.37 1263.30 1298.73 1262.07 1325.00 1262.50" stroke="#a52020" stroke-width="4.60" stroke-opacity="0.22"/>
<path d="M825.00 1262.50C837.50 1262.33 850.00 1262.23 862.50 1262.00C891.67 1261.47 920.83 1260.33 950.00 1260.00C966.67 1259.81 983.34 1260.42 1000.00 1260.00C1008.34 1259.79 1016.70 1259.65 1025.00 1258.75C1030.04 1258.21 1035.18 1257.82 1040.00 1256.25C1043.54 1255.10 1047.17 1253.67 1050.00 1251.25C1052.72 1248.92 1054.67 1245.72 1056.25 1242.50C1058.55 1237.81 1059.57 1232.58 1060.75 1227.50C1062.47 1220.09 1063.50 1212.54 1064.50 1205.00C1065.83 1195.04 1066.67 1185.02 1067.50 1175.00C1068.54 1162.52 1069.25 1150.01 1070.00 1137.50C1070.75 1125.00 1071.50 1112.51 1072.00 1100.00C1072.87 1078.34 1072.92 1056.66 1073.75 1035.00C1075.03 1001.65 1077.20 968.34 1078.75 935.00C1081.46 876.68 1084.14 818.35 1086.25 760.00C1087.58 723.34 1088.27 686.66 1089.50 650.00C1091.40 593.33 1093.03 536.63 1095.90 480.00C1097.25 453.31 1099.31 426.67 1101.00 400.00C1102.00 384.17 1103.01 368.33 1104.00 352.50C1105.04 335.83 1106.05 319.17 1107.10 302.50C1108.41 281.67 1109.99 260.85 1111.10 240.00C1112.21 219.18 1112.63 198.32 1113.75 177.50C1114.65 160.82 1115.76 144.16 1117.00 127.50C1117.74 117.49 1118.49 107.48 1119.50 97.50C1120.35 89.15 1121.09 80.77 1122.50 72.50C1123.15 68.71 1123.59 64.82 1125.00 61.25C1125.60 59.72 1126.67 58.42 1127.50 57.00C1128.33 57.33 1129.33 57.40 1130.00 58.00C1131.97 59.76 1132.66 62.59 1133.75 65.00C1135.22 68.24 1136.46 71.60 1137.50 75.00C1138.75 79.10 1139.34 83.38 1140.50 87.50C1141.45 90.87 1142.60 94.19 1143.75 97.50C1144.77 100.44 1146.17 103.25 1147.00 106.25C1148.46 111.56 1149.17 117.05 1150.00 122.50C1151.26 130.80 1152.24 139.14 1153.00 147.50C1153.98 158.31 1154.48 169.16 1155.00 180.00C1155.75 195.82 1156.00 211.67 1156.60 227.50C1157.23 244.17 1158.00 260.83 1158.70 277.50C1159.40 294.17 1160.22 310.83 1160.80 327.50C1161.38 344.16 1161.56 360.84 1162.20 377.50C1163.28 405.85 1164.57 434.19 1166.30 462.50C1167.32 479.18 1168.55 495.85 1170.00 512.50C1171.45 529.19 1173.54 545.81 1175.00 562.50C1176.46 579.15 1177.79 595.81 1178.75 612.50C1179.95 633.32 1180.50 654.16 1181.25 675.00C1182.46 708.66 1183.36 742.34 1184.50 776.00C1185.45 804.00 1186.40 832.00 1187.50 860.00C1188.65 889.17 1189.43 918.36 1191.25 947.50C1192.34 965.02 1193.27 982.59 1195.55 1000.00C1196.73 1009.04 1198.90 1017.93 1200.39 1026.93C1201.89 1035.89 1203.41 1044.85 1204.52 1053.86C1205.63 1062.81 1206.23 1071.81 1207.04 1080.79C1207.85 1089.76 1208.76 1098.73 1209.37 1107.72C1210.19 1119.68 1210.57 1131.66 1211.17 1143.63C1211.77 1155.60 1212.15 1167.58 1212.96 1179.53C1213.58 1188.52 1214.32 1197.51 1215.30 1206.46C1216.14 1214.26 1216.99 1222.08 1218.35 1229.80C1219.31 1235.24 1220.09 1240.76 1221.94 1245.96C1223.06 1249.11 1224.18 1252.46 1226.43 1254.94C1228.33 1257.03 1230.96 1258.46 1233.61 1259.43C1237.58 1260.88 1241.96 1260.89 1246.18 1261.22C1272.37 1263.30 1298.73 1262.07 1325.00 1262.50" stroke="#a52020" stroke-width="2.00"/>
</g>
<g clip-path="url(#ax)" stroke-width="2.2" fill="none">
<line x1="264.50" y1="1262.55" x2="1435.00" y2="1262.55" stroke="#8a8484"/>
<line x1="640.00" y1="1262.55" x2="690.00" y2="1262.55" stroke="#5a5ae0"/>
<line x1="720.00" y1="1262.55" x2="790.00" y2="1262.55" stroke="#c03030"/>
<line x1="880.00" y1="1262.55" x2="1435.00" y2="1262.55" stroke="#a52020"/>
</g>
<text x="328.20" y="1339.00" font-size="73.00" text-anchor="middle" textLength="104.00" lengthAdjust="spacingAndGlyphs">400</text>
<text x="542.20" y="1339.00" font-size="73.00" text-anchor="middle" textLength="104.00" lengthAdjust="spacingAndGlyphs">500</text>
<text x="756.20" y="1339.00" font-size="73.00" text-anchor="middle" textLength="104.00" lengthAdjust="spacingAndGlyphs">600</text>
<text x="970.20" y="1339.00" font-size="73.00" text-anchor="middle" textLength="104.00" lengthAdjust="spacingAndGlyphs">700</text>
<text x="1184.20" y="1339.00" font-size="73.00" text-anchor="middle" textLength="104.00" lengthAdjust="spacingAndGlyphs">800</text>
<text x="1398.20" y="1339.00" font-size="73.00" text-anchor="middle" textLength="104.00" lengthAdjust="spacingAndGlyphs">900</text>
<text x="1612.20" y="1339.00" font-size="73.00" text-anchor="middle" textLength="138.50" lengthAdjust="spacingAndGlyphs">1000</text>
<text x="196.00" y="1279.65" font-size="73.00" text-anchor="end" textLength="86.50" lengthAdjust="spacingAndGlyphs">0.0</text>
<text x="196.00" y="1038.24" font-size="73.00" text-anchor="end" textLength="86.50" lengthAdjust="spacingAndGlyphs">0.2</text>
<text x="196.00" y="796.83" font-size="73.00" text-anchor="end" textLength="86.50" lengthAdjust="spacingAndGlyphs">0.4</text>
<text x="196.00" y="555.42" font-size="73.00" text-anchor="end" textLength="86.50" lengthAdjust="spacingAndGlyphs">0.6</text>
<text x="196.00" y="314.01" font-size="73.00" text-anchor="end" textLength="86.50" lengthAdjust="spacingAndGlyphs">0.8</text>
<text x="196.00" y="72.60" font-size="73.00" text-anchor="end" textLength="86.50" lengthAdjust="spacingAndGlyphs">1.0</text>
<text x="972.00" y="1459.00" font-size="72.00" text-anchor="middle" textLength="527.20" lengthAdjust="spacingAndGlyphs">Wavelength (nm)</text>
<text transform="translate(78.4 1051) rotate(-90)" y="0" font-size="72"><tspan x="-2.00" textLength="246.90" lengthAdjust="spacingAndGlyphs">Relative</tspan> <tspan x="262.20" textLength="236.10" lengthAdjust="spacingAndGlyphs">spectral</tspan> <tspan x="516.00" textLength="268.40" lengthAdjust="spacingAndGlyphs">response</tspan></text>
<line x1="1456.5" y1="440.50" x2="1612.8" y2="440.50" stroke="#808080" stroke-width="4.50" stroke-opacity="0.22"/>
<line x1="1457" y1="440.50" x2="1612.2" y2="440.50" stroke="#808080" stroke-width="1.90"/>
<text y="464.50" font-size="73.5" font-style="italic"><tspan x="1630.5" textLength="37.7" lengthAdjust="spacingAndGlyphs">B</tspan><tspan x="1669.0" y="482.40" font-size="48" font-style="normal" textLength="26" lengthAdjust="spacingAndGlyphs">1</tspan></text>
<line x1="1456.5" y1="554.60" x2="1612.8" y2="554.60" stroke="#4595c6" stroke-width="4.70" stroke-opacity="0.22"/>
<line x1="1457" y1="554.60" x2="1612.2" y2="554.60" stroke="#4595c6" stroke-width="2.10"/>
<text y="578.60" font-size="73.5" font-style="italic"><tspan x="1630.5" textLength="37.7" lengthAdjust="spacingAndGlyphs">B</tspan><tspan x="1669.0" y="596.50" font-size="48" font-style="normal" textLength="26" lengthAdjust="spacingAndGlyphs">2</tspan></text>
<line x1="1456.5" y1="668.70" x2="1612.8" y2="668.70" stroke="#0000ff" stroke-width="5.00" stroke-opacity="0.22"/>
<line x1="1457" y1="668.70" x2="1612.2" y2="668.70" stroke="#0000ff" stroke-width="2.40"/>
<text y="692.70" font-size="73.5" font-style="italic"><tspan x="1630.5" textLength="37.7" lengthAdjust="spacingAndGlyphs">B</tspan><tspan x="1669.0" y="710.60" font-size="48" font-style="normal" textLength="26" lengthAdjust="spacingAndGlyphs">3</tspan></text>
<line x1="1456.5" y1="782.80" x2="1612.8" y2="782.80" stroke="#3cb371" stroke-width="4.70" stroke-opacity="0.22"/>
<line x1="1457" y1="782.80" x2="1612.2" y2="782.80" stroke="#3cb371" stroke-width="2.10"/>
<text y="806.80" font-size="73.5" font-style="italic"><tspan x="1630.5" textLength="37.7" lengthAdjust="spacingAndGlyphs">B</tspan><tspan x="1669.0" y="824.70" font-size="48" font-style="normal" textLength="26" lengthAdjust="spacingAndGlyphs">4</tspan></text>
<line x1="1456.5" y1="896.90" x2="1612.8" y2="896.90" stroke="#ff0000" stroke-width="4.80" stroke-opacity="0.22"/>
<line x1="1457" y1="896.90" x2="1612.2" y2="896.90" stroke="#ff0000" stroke-width="2.20"/>
<text y="920.90" font-size="73.5" font-style="italic"><tspan x="1630.5" textLength="37.7" lengthAdjust="spacingAndGlyphs">B</tspan><tspan x="1669.0" y="938.80" font-size="48" font-style="normal" textLength="26" lengthAdjust="spacingAndGlyphs">5</tspan></text>
<line x1="1456.5" y1="1011.00" x2="1612.8" y2="1011.00" stroke="#a52020" stroke-width="4.60" stroke-opacity="0.22"/>
<line x1="1457" y1="1011.00" x2="1612.2" y2="1011.00" stroke="#a52020" stroke-width="2.00"/>
<text y="1035.00" font-size="73.5" font-style="italic"><tspan x="1630.5" textLength="37.7" lengthAdjust="spacingAndGlyphs">B</tspan><tspan x="1669.0" y="1052.90" font-size="48" font-style="normal" textLength="26" lengthAdjust="spacingAndGlyphs">6</tspan></text>
<line x1="1456.5" y1="1125.10" x2="1612.8" y2="1125.10" stroke="#7e7e7e" stroke-width="4.40" stroke-opacity="0.22"/>
<line x1="1457" y1="1125.10" x2="1612.2" y2="1125.10" stroke="#7e7e7e" stroke-width="1.80"/>
<text y="1149.10" font-size="73.5" font-style="italic"><tspan x="1630.5" textLength="37.7" lengthAdjust="spacingAndGlyphs">B</tspan><tspan x="1669.0" y="1167.00" font-size="48" font-style="normal" textLength="26" lengthAdjust="spacingAndGlyphs">7</tspan></text>
</g>
</svg></body></html>
